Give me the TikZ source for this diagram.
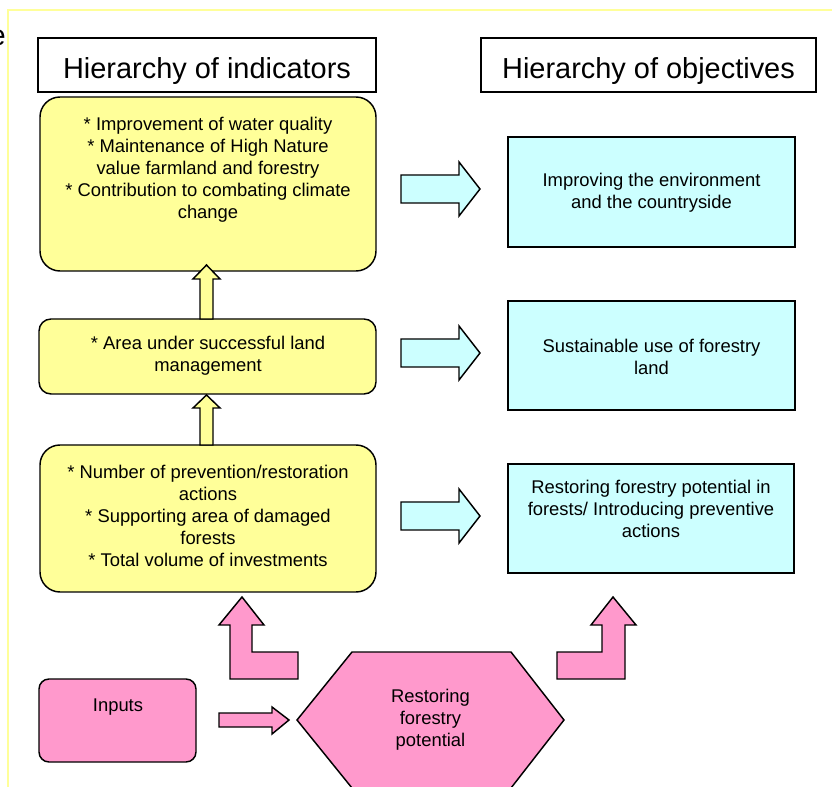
\documentclass[tikz,border=0pt]{standalone}
\usepackage{fontspec}
\setmainfont{Liberation Sans}
\definecolor{yfill}{HTML}{FFFF99}
\definecolor{cfill}{HTML}{CCFFFF}
\definecolor{pfill}{HTML}{FF99CC}
\definecolor{framecol}{HTML}{FFFF99}
\begin{document}
\begin{tikzpicture}[x=0.75pt,y=-0.75pt,
  outline/.style={draw=black, line width=1.1pt, line join=miter},
  boxnode/.style={outline, rectangle, inner sep=0pt, outer sep=0pt},
  ybox/.style={boxnode, fill=yfill, rounded corners=15pt},
  cbox/.style={boxnode, fill=cfill},
  hbox/.style={boxnode, fill=white},
  yarrow/.style={outline, fill=yfill},
  carrow/.style={outline, fill=cfill},
  parrow/.style={outline, fill=pfill},
  txt/.style={align=center, inner sep=0pt, text=black, font=\fontsize{13.8}{16.5}\selectfont},
  htxt/.style={inner sep=0pt, text=black, font=\fontsize{21.7}{26}\selectfont},
]
\useasboundingbox (0,0) rectangle (832,787);
% page frame
\draw[framecol, line width=1.3pt] (8,900) -- (8,10) -- (900,10);
\node[htxt, anchor=base east] (frag) at (6,46) {e};

% headers
\node[hbox, minimum width={338*0.75pt}, minimum height={54*0.75pt}] (h1) at (207,65) {};
\node[htxt, anchor=base] (h1t) at (207,79) {Hierarchy of indicators};
\node[hbox, minimum width={335*0.75pt}, minimum height={54*0.75pt}] (h2) at (648.5,65) {};
\node[htxt, anchor=base] (h2t) at (648.5,79) {Hierarchy of objectives};

% yellow indicator boxes
\node[ybox, minimum width={336*0.75pt}, minimum height={174*0.75pt}] (y1) at (208,184) {};
\node[txt] (y1t) at (208,170) {* Improvement of water quality\\* Maintenance of High Nature\\value farmland and forestry\\* Contribution to combating climate\\change};
\node[ybox, rounded corners=9pt, minimum width={337*0.75pt}, minimum height={75*0.75pt}] (y2) at (207.5,356.5) {};
\node[txt] (y2t) at (208,355.5) {* Area under successful land\\management};
\node[ybox, minimum width={336*0.75pt}, minimum height={147*0.75pt}] (y3) at (208,518.5) {};
\node[txt] (y3t) at (208,516) {* Number of prevention/restoration\\actions\\* Supporting area of damaged\\forests\\* Total volume of investments};

% yellow up arrows
\draw[yarrow] (206.5,265) -- (220,279) -- (213,279) -- (213,319) -- (200,319) -- (200,279) -- (193,279) -- cycle;
\draw[yarrow] (206.5,395) -- (220,408) -- (213,408) -- (213,445) -- (200,445) -- (200,408) -- (193,408) -- cycle;

% cyan objective boxes
\node[cbox, minimum width={287*0.75pt}, minimum height={110*0.75pt}] (c1) at (651.5,192) {};
\node[txt] (c1t) at (651.5,193) {Improving the environment\\and the countryside};
\node[cbox, minimum width={287*0.75pt}, minimum height={109*0.75pt}] (c2) at (651.5,355.5) {};
\node[txt] (c2t) at (651.5,357) {Sustainable use of forestry\\land};
\node[cbox, minimum width={286*0.75pt}, minimum height={109*0.75pt}] (c3) at (651,518.5) {};
\node[txt] (c3t) at (651,509) {Restoring forestry potential in\\forests/ Introducing preventive\\actions};

% cyan right arrows
\foreach \yc in {189,353,516}{
  \draw[carrow] (401,\yc-14) -- (459,\yc-14) -- (459,\yc-27) -- (480,\yc) -- (459,\yc+27) -- (459,\yc+14) -- (401,\yc+14) -- cycle;
}

% pink elements
\draw[parrow] (242,597) -- (264,625) -- (252,625) -- (252,652) -- (298,652) -- (298,679) -- (230,679) -- (230,625) -- (219,625) -- cycle;
\draw[parrow] (613,597) -- (636,625) -- (625,625) -- (625,679) -- (557,679) -- (557,652) -- (602,652) -- (602,625) -- (591,625) -- cycle;
\draw[parrow] (352,652) -- (511,652) -- (564,720) -- (511,788) -- (352,788) -- (297,720) -- cycle;
\node[txt] (hext) at (430.5,720) {Restoring\\forestry\\potential};
\draw[parrow] (219,713) -- (272,713) -- (272,707) -- (289,720) -- (272,734) -- (272,727) -- (219,727) -- cycle;
\node[boxnode, fill=pfill, rounded corners=7.5pt, minimum width={157*0.75pt}, minimum height={83*0.75pt}] (inp) at (117.5,720.5) {};
\node[txt] (inpt) at (118,707) {Inputs};
\end{tikzpicture}
\end{document}
